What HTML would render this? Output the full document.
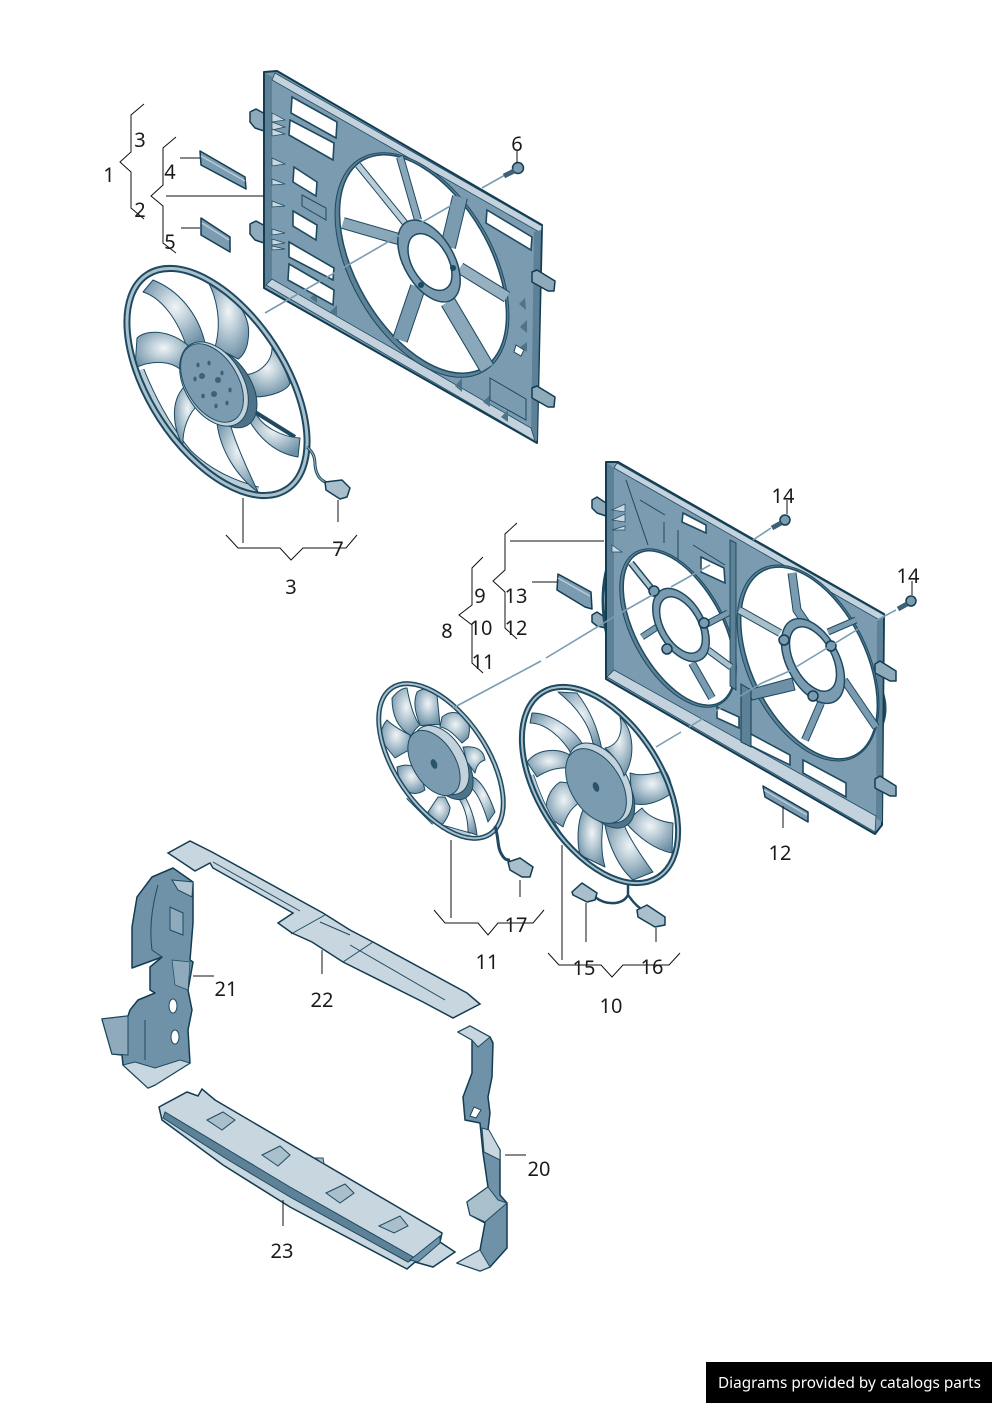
<!DOCTYPE html>
<html><head><meta charset="utf-8"><style>
html,body{margin:0;padding:0;background:#fff}
svg{display:block}
text{font-family:"Noto Sans","Open Sans","DejaVu Sans",sans-serif;font-size:20px;fill:#1a1a1a;text-anchor:middle}
.b{fill:url(#bl);stroke:#1d4a60;stroke-width:1;stroke-linejoin:round}
.f{fill:#7b9bb0;stroke:#123c52;stroke-width:2;stroke-linejoin:round}
.w{fill:#fff;stroke:#1d4a60;stroke-width:1.6}
.l{fill:#c8d6df;stroke:#1d4a60;stroke-width:1}
.t{fill:#8eaabb;stroke:#123c52;stroke-width:1.5;stroke-linejoin:round}
.c{fill:#a9bfcc;stroke:#123c52;stroke-width:1.5;stroke-linejoin:round}
.k{fill:none;stroke:#111;stroke-width:1}
.s{stroke-linecap:butt;fill:none}
.a{fill:none;stroke:#7a9db3;stroke-width:1.6}
</style></head><body>
<svg width="992" height="1403" viewBox="0 0 992 1403" xmlns="http://www.w3.org/2000/svg">
<defs>
<radialGradient id="bl" cx=".52" cy=".4" r=".62"><stop offset="0" stop-color="#f0f4f6"/><stop offset=".35" stop-color="#c3d3dc"/><stop offset="1" stop-color="#6d90a6"/></radialGradient>
</defs>
<rect width="992" height="1403" fill="#fff"/>

<!-- FRAME 1 -->
<polygon points="250,112 256,109 267,115 267,132 255,128 250,122" class="t"/>
<polygon points="250,224 256,221 267,227 267,244 255,240 250,234" class="t"/>
<path class="f" d="M264,72 L277,71 L542,225 L537,443 L264,288 Z"/>
<polygon points="265,73 272,77 272,282 265,287" fill="#5d8197"/>
<polygon points="275,73 542,226 541,233 272,80" fill="#c3d2dc" stroke="#1d4a60" stroke-width=".8"/>
<polygon points="534,232 541,230 537,441 531,437" fill="#5d8197"/>
<polygon points="266,285 272,279 531,428 535,441" fill="#c3d2dc" stroke="#1d4a60" stroke-width=".8"/>
<polygon points="532,272 537,270 555,281 554,291 548,291 532,282" class="t"/>
<polygon points="532,388 537,386 555,397 554,407 548,407 532,398" class="t"/>
<g fill="#c9d7e0" stroke="#1d4a60" stroke-width=".7">
<polygon points="272,113 285,120 272,122"/><polygon points="272,122 285,127 272,130"/><polygon points="272,129 285,134 272,136"/>
<polygon points="272,158 285,164 272,166"/><polygon points="272,179 285,184 272,185"/><polygon points="272,201 285,206 272,207"/>
<polygon points="272,229 285,233 272,235"/><polygon points="272,239 285,243 272,245"/><polygon points="272,246 285,249 272,250"/>
</g>
<g fill="#4f7489"><polygon points="317,292 317,303 310,298"/><polygon points="337,305 337,317 330,312"/><polygon points="462,378 462,392 455,386"/><polygon points="490,395 490,407 483,402"/><polygon points="508,410 508,422 501,417"/><polygon points="525,298 526,310 519,304"/><polygon points="527,320 527,333 520,327"/><polygon points="527,342 527,352 520,347"/></g>
<polygon class="w" points="292,97 337,122 336,138 291,113"/>
<polygon class="w" points="290,120 334,143 333,160 289,135"/>
<polygon class="w" points="294,167 317,182 316,196 293,182"/>
<polygon class="w" points="293,211 317,225 316,240 293,226"/>
<polygon class="w" points="289,242 334,268 333,280 289,257"/>
<polygon class="w" points="289,264 334,290 333,305 288,280"/>
<polygon class="w" points="487,210 532,237 531,250 486,223"/>
<path d="M302,195 L326,208 L326,220 L302,206 Z" fill="none" stroke="#1d4a60"/>
<ellipse cx="422" cy="265" rx="123" ry="71" transform="rotate(60 422 265)" fill="#5d8197" stroke="#1d4a60" stroke-width="1"/>
<ellipse cx="423" cy="264" rx="120" ry="67" transform="rotate(60 423 264)" fill="#fff" stroke="#1f4d64" stroke-width="1.5"/>
<g class="s">
<line x1="358" y1="165" x2="405" y2="223" stroke="#1d4a60" stroke-width="7"/><line x1="358" y1="165" x2="405" y2="223" stroke="#b9ccd7" stroke-width="5"/>
<line x1="400" y1="157" x2="418" y2="220" stroke="#1d4a60" stroke-width="8"/><line x1="400" y1="157" x2="418" y2="220" stroke="#8aa8ba" stroke-width="6"/>
<line x1="343" y1="223" x2="402" y2="240" stroke="#1d4a60" stroke-width="12"/><line x1="343" y1="223" x2="402" y2="240" stroke="#8aa8ba" stroke-width="10"/>
<line x1="460" y1="197" x2="448" y2="247" stroke="#1d4a60" stroke-width="16"/><line x1="460" y1="197" x2="448" y2="247" stroke="#7b9bb0" stroke-width="14"/>
<line x1="460" y1="268" x2="507" y2="297" stroke="#1d4a60" stroke-width="12"/><line x1="460" y1="268" x2="507" y2="297" stroke="#97b1c1" stroke-width="10"/>
<line x1="418" y1="287" x2="400" y2="340" stroke="#1d4a60" stroke-width="16"/><line x1="418" y1="287" x2="400" y2="340" stroke="#7b9bb0" stroke-width="14"/>
<line x1="448" y1="302" x2="487" y2="368" stroke="#1d4a60" stroke-width="16"/><line x1="448" y1="302" x2="487" y2="368" stroke="#8aa8ba" stroke-width="14"/>
</g>
<ellipse cx="429" cy="261" rx="45" ry="25" transform="rotate(60 429 261)" fill="#7b9bb0" stroke="#1d4a60" stroke-width="1.5"/>
<ellipse cx="430" cy="262" rx="31" ry="18" transform="rotate(60 430 262)" fill="#fff" stroke="#1d4a60" stroke-width="1.5"/>
<circle cx="453" cy="268" r="3" fill="#1d4a60"/><circle cx="421" cy="285" r="3" fill="#1d4a60"/>
<polygon points="490,378 526,399 526,420 490,400" fill="#7b9bb0" stroke="#1d4a60"/>
<polygon points="516,345 524,350 521,356 514,352" fill="#fff" stroke="#1d4a60"/>

<!-- clips -->
<polygon class="t" points="200,151 245,177 246,189 201,165" style="fill:#7b9bb0"/><line x1="201" y1="156" x2="245" y2="181" stroke="#b9ccd7" stroke-width="1.5"/>
<polygon class="t" points="201,218 230,237 230,252 201,235" style="fill:#7b9bb0"/><line x1="202" y1="223" x2="229" y2="240" stroke="#b9ccd7" stroke-width="1.5"/>

<!-- FAN 1 -->
<path class="s" d="M141,370 C155,405 170,430 188,452" stroke="#1d4a60" stroke-width="7"/><path class="s" d="M141,370 C155,405 170,430 188,452" stroke="#b9ccd7" stroke-width="5"/>
<path class="s" d="M188,452 C212,476 240,485 258,490" stroke="#1d4a60" stroke-width="7"/><path class="s" d="M188,452 C212,476 240,485 258,490" stroke="#b9ccd7" stroke-width="5"/>
<path class="s" d="M255,412 L295,437" stroke="#1d4a60" stroke-width="4"/>
<path class="b" d="M143,292 L153,280 C178,290 198,313 205,343 L187,348 C178,320 162,298 143,292Z"/>
<path class="b" d="M207,280 C238,297 252,317 248,340 C247,350 242,357 238,359 L215,347 C222,323 217,297 207,280Z"/>
<path class="b" d="M137,338 C145,330 168,328 190,347 L183,372 C172,360 152,360 135,368Z"/>
<path class="b" d="M272,348 C272,363 258,375 242,375 L253,397 C272,397 288,390 290,383 Q282,360 272,348Z"/>
<path class="b" d="M245,413 C255,433 272,453 298,457 L300,438 C282,437 262,427 255,412Z"/>
<path class="b" d="M217,423 C220,450 237,477 258,492 C248,470 235,443 230,423Z"/>
<path class="b" d="M187,384 C172,397 170,420 183,447 C182,430 188,413 200,403Z"/>
<ellipse cx="217" cy="382" rx="128" ry="68" transform="rotate(57 217 382)" fill="none" stroke="#1d4a60" stroke-width="7"/>
<ellipse cx="217" cy="382" rx="128" ry="68" transform="rotate(57 217 382)" fill="none" stroke="#a9bfcc" stroke-width="3"/>
<ellipse cx="224" cy="388" rx="44" ry="27" transform="rotate(57 224 388)" fill="#4f7489" stroke="#1d4a60"/>
<ellipse cx="214" cy="384" rx="46" ry="29" transform="rotate(59 214 384)" fill="#c3d2dc" stroke="#1d4a60"/>
<ellipse cx="212" cy="383" rx="43" ry="26" transform="rotate(59 212 383)" fill="#7b9bb0" stroke="#1d4a60"/>
<g fill="#3d6277"><ellipse cx="198" cy="365" rx="1.6" ry="2.4"/><ellipse cx="209" cy="363" rx="1.6" ry="2.4"/><ellipse cx="222" cy="373" rx="1.6" ry="2.4"/><ellipse cx="195" cy="379" rx="1.6" ry="2.4"/><circle cx="202" cy="376" r="3"/><circle cx="218" cy="380" r="3"/><ellipse cx="230" cy="390" rx="1.6" ry="2.4"/><ellipse cx="203" cy="396" rx="1.8" ry="2.4"/><circle cx="214" cy="394" r="3"/><ellipse cx="216" cy="406" rx="1.6" ry="2.4"/><ellipse cx="227" cy="403" rx="1.6" ry="2.4"/></g>
<path d="M307,447 C313,452 315,457 315,465 C316,475 320,480 327,483" fill="none" stroke="#1d4a60" stroke-width="3"/>
<path d="M307,447 C313,452 315,457 315,465 C316,475 320,480 327,483" fill="none" stroke="#9fb7c5" stroke-width="1"/>
<polygon class="c" points="325,482 342,480 350,488 347,497 340,499 326,490"/>

<!-- dashes 1 -->
<path class="a" d="M505,175 L482,188 M452,205 L265,313"/>
<circle cx="518" cy="168" r="5.5" fill="#7b9bb0" stroke="#123c52" stroke-width="1.5"/><line x1="514" y1="171" x2="504" y2="176" stroke="#3d6277" stroke-width="5"/>

<!-- FRAME 2 -->
<polygon points="592,500 597,497 606,503 606,516 597,513 592,508" class="t"/>
<polygon points="592,615 597,612 606,618 606,628 597,626 592,622" class="t"/>
<path d="M613,550 Q596,590 608,640" fill="none" stroke="#1d4a60" stroke-width="3"/>
<path d="M878,683 Q893,710 876,737" fill="none" stroke="#1d4a60" stroke-width="3"/>
<path class="f" d="M606,462 L618,462 L884,614 L882,825 L875,834 L606,679 Z"/>
<polygon points="607,463 614,468 614,672 607,677" fill="#5d8197"/>
<polygon points="617,463 884,615 883,622 614,468" fill="#c3d2dc" stroke="#1d4a60" stroke-width=".8"/>
<polygon points="877,620 883,618 882,822 876,818" fill="#5d8197"/>
<polygon points="607,677 614,670 876,816 875,832" fill="#c3d2dc" stroke="#1d4a60" stroke-width=".8"/>
<polygon points="875,664 880,661 896,671 896,681 890,681 875,673" class="t"/>
<polygon points="875,779 880,776 896,786 896,796 890,796 875,788" class="t"/>
<path d="M626,480 L648,545 M664,522 L664,543 M678,530 L678,560 M693,545 L725,565 M640,500 L665,515" fill="none" stroke="#1d4a60"/>
<g fill="#c9d7e0" stroke="#1d4a60" stroke-width=".7"><polygon points="612,510 625,504 625,512"/><polygon points="612,520 625,514 625,522"/><polygon points="612,530 625,526 625,530"/><polygon points="612,545 622,552 612,552"/></g>
<polygon class="w" points="683,513 706,525 706,533 682,522"/>
<polygon class="w" points="701,557 724,568 725,583 701,572"/>
<polygon class="w" points="717,707 739,717 739,728 717,718"/>
<polygon class="w" points="749,733 790,755 790,765 749,745"/>
<polygon class="w" points="803,760 846,783 846,797 803,773"/>
<ellipse cx="678" cy="628" rx="87" ry="46" transform="rotate(61 678 628)" fill="#5d8197" stroke="#1d4a60" stroke-width="1"/>
<ellipse cx="679" cy="628" rx="85" ry="43" transform="rotate(61 679 628)" fill="#fff" stroke="#1f4d64" stroke-width="1.5"/>
<ellipse cx="808" cy="663" rx="105" ry="60" transform="rotate(64 808 663)" fill="#5d8197" stroke="#1d4a60" stroke-width="1"/>
<ellipse cx="809" cy="663" rx="103" ry="57" transform="rotate(64 809 663)" fill="#fff" stroke="#1f4d64" stroke-width="1.5"/>
<polygon points="730,540 736,543 736,690 730,686" fill="#5d8197" stroke="#123c52" stroke-width=".8"/>
<g class="s">
<line x1="631" y1="563" x2="655" y2="593" stroke="#1d4a60" stroke-width="7"/><line x1="631" y1="563" x2="655" y2="593" stroke="#a9bfcc" stroke-width="4"/>
<line x1="728" y1="613" x2="705" y2="625" stroke="#1d4a60" stroke-width="7"/><line x1="728" y1="613" x2="705" y2="625" stroke="#7b9bb0" stroke-width="5"/>
<line x1="642" y1="637" x2="660" y2="625" stroke="#1d4a60" stroke-width="7"/><line x1="642" y1="637" x2="660" y2="625" stroke="#7b9bb0" stroke-width="5"/>
<line x1="708" y1="650" x2="731" y2="667" stroke="#1d4a60" stroke-width="7"/><line x1="708" y1="650" x2="731" y2="667" stroke="#a9bfcc" stroke-width="5"/>
<line x1="692" y1="663" x2="712" y2="698" stroke="#1d4a60" stroke-width="8"/><line x1="692" y1="663" x2="712" y2="698" stroke="#7b9bb0" stroke-width="6"/>
<line x1="739" y1="610" x2="780" y2="633" stroke="#1d4a60" stroke-width="8"/><line x1="739" y1="610" x2="780" y2="633" stroke="#a9bfcc" stroke-width="6"/>
<path d="M792,573 L797,610 L806,623" stroke="#1d4a60" stroke-width="9"/><path d="M792,573 L797,610 L806,623" stroke="#7b9bb0" stroke-width="7"/>
<line x1="856" y1="620" x2="828" y2="632" stroke="#1d4a60" stroke-width="7"/><line x1="856" y1="620" x2="828" y2="632" stroke="#7b9bb0" stroke-width="5"/>
<line x1="844" y1="680" x2="876" y2="727" stroke="#1d4a60" stroke-width="8"/><line x1="844" y1="680" x2="876" y2="727" stroke="#7b9bb0" stroke-width="6"/>
<line x1="821" y1="703" x2="805" y2="740" stroke="#1d4a60" stroke-width="8"/><line x1="821" y1="703" x2="805" y2="740" stroke="#7b9bb0" stroke-width="6"/>
</g>
<polygon points="748,690 792,678 795,690 752,700" fill="#6f91a7" stroke="#1d4a60"/>
<polygon points="741,684 751,690 751,747 741,742" fill="#5d8197" stroke="#123c52"/>
<ellipse cx="681" cy="625" rx="40" ry="23" transform="rotate(60 681 625)" fill="#7b9bb0" stroke="#1d4a60" stroke-width="1.5"/>
<ellipse cx="681" cy="625" rx="31" ry="17" transform="rotate(60 681 625)" fill="#fff" stroke="#1d4a60" stroke-width="1.5"/>
<ellipse cx="813" cy="661" rx="46" ry="26" transform="rotate(62 813 661)" fill="#7b9bb0" stroke="#1d4a60" stroke-width="1.5"/>
<ellipse cx="813" cy="659" rx="35" ry="19" transform="rotate(62 813 659)" fill="#fff" stroke="#1d4a60" stroke-width="1.5"/>
<g fill="#7b9bb0" stroke="#123c52" stroke-width="1.5"><circle cx="654" cy="591" r="5"/><circle cx="704" cy="623" r="5"/><circle cx="667" cy="649" r="5"/><circle cx="784" cy="640" r="5"/><circle cx="831" cy="646" r="5"/><circle cx="813" cy="696" r="5"/></g>
<polygon class="t" points="558,574 591,592 592,609 585,607 557,590" style="fill:#7b9bb0"/><line x1="558" y1="578" x2="590" y2="596" stroke="#b9ccd7" stroke-width="1.5"/>
<polygon class="t" points="763,786 808,812 808,822 765,797" style="fill:#7b9bb0"/><line x1="764" y1="790" x2="807" y2="815" stroke="#b9ccd7" stroke-width="1.5"/>

<!-- FAN 2 -->
<path class="s" d="M408,797 L434,823 M442,827 L470,835" stroke="#1d4a60" stroke-width="5"/><path class="s" d="M408,797 L434,823 M442,827 L470,835" stroke="#b9ccd7" stroke-width="3"/>
<path class="b" d="M392,698 Q400,688 407,688 C410,705 415,720 420,725 C413,730 412,737 410,735 C398,728 392,715 392,698Z"/>
<path class="b" d="M417,692 Q427,685 437,695 L440,725 C430,723 422,727 420,725 C415,712 413,702 417,692Z"/>
<path class="b" d="M442,717 Q453,708 465,717 Q472,725 468,738 L462,743 C453,733 447,728 440,727Z"/>
<path class="b" d="M387,720 C380,728 380,738 383,743 L395,758 C400,755 408,750 410,750 L410,735 C400,730 392,725 387,720Z"/>
<path class="b" d="M397,767 Q410,762 420,770 L425,790 Q413,798 403,788 Q398,778 397,767Z"/>
<path class="b" d="M438,797 L428,812 Q433,823 442,825 Q450,815 450,807 L445,797Z"/>
<path class="b" d="M463,793 C470,805 475,818 477,835 L468,832 C468,815 463,805 458,797Z"/>
<path class="b" d="M473,777 C483,782 490,798 495,812 L488,822 C483,805 477,792 470,787Z"/>
<ellipse cx="441" cy="761" rx="88" ry="46" transform="rotate(56 441 761)" fill="none" stroke="#1d4a60" stroke-width="5"/>
<ellipse cx="441" cy="761" rx="88" ry="46" transform="rotate(56 441 761)" fill="none" stroke="#a9bfcc" stroke-width="2"/>
<ellipse cx="447" cy="767" rx="36" ry="21" transform="rotate(58 447 767)" fill="#4f7489" stroke="#1d4a60"/>
<ellipse cx="441" cy="760" rx="38" ry="23" transform="rotate(58 441 760)" fill="#c3d2dc" stroke="#1d4a60"/>
<ellipse cx="434" cy="763" rx="36" ry="21" transform="rotate(58 434 763)" fill="#7b9bb0" stroke="#1d4a60"/>
<ellipse cx="434" cy="764" rx="3" ry="5" transform="rotate(-20 434 764)" fill="#2a5268"/>
<path class="b" d="M463,747 Q483,745 485,760 Q477,762 475,773 L467,762Z"/>
<path d="M495,826 C499,838 497,848 502,855 C505,860 507,860 510,860" fill="none" stroke="#1d4a60" stroke-width="3"/>
<polygon class="c" points="508,862 520,858 533,867 530,877 522,877 510,870"/>

<!-- FAN 3 -->
<path class="b" d="M558,692 L577,693 C590,710 598,728 602,750 L593,743 C588,720 572,703 558,692Z"/>
<path class="b" d="M532,713 C552,713 575,730 583,745 L572,755 C562,737 545,723 530,723Z"/>
<path class="b" d="M527,762 C538,748 558,748 570,755 L568,768 C552,767 540,775 537,777Z"/>
<path class="b" d="M560,782 C548,790 543,807 548,817 L563,827 C567,813 573,807 580,802 L570,783Z"/>
<path class="b" d="M583,810 C577,823 577,843 580,855 L605,867 C600,850 602,833 603,822Z"/>
<path class="b" d="M605,825 C608,843 618,867 633,880 L653,872 C642,857 628,837 623,822Z"/>
<path class="b" d="M642,808 C648,817 662,822 673,823 L672,853 C655,850 638,837 625,822Z"/>
<path class="b" d="M630,773 C642,777 658,773 665,770 C672,780 672,790 672,793 C658,803 643,807 632,803Z"/>
<path class="s" d="M532,775 C545,815 565,845 581,858" stroke="#1d4a60" stroke-width="4"/><path class="s" d="M532,775 C545,815 565,845 581,858" stroke="#b9ccd7" stroke-width="2.5"/>
<ellipse cx="600" cy="785" rx="109" ry="62" transform="rotate(58 600 785)" fill="none" stroke="#1d4a60" stroke-width="6"/>
<ellipse cx="600" cy="785" rx="109" ry="62" transform="rotate(58 600 785)" fill="none" stroke="#a9bfcc" stroke-width="2"/>
<ellipse cx="604" cy="790" rx="42" ry="25" transform="rotate(58 604 790)" fill="#4f7489" stroke="#1d4a60"/>
<ellipse cx="600" cy="783" rx="44" ry="27" transform="rotate(58 600 783)" fill="#c3d2dc" stroke="#1d4a60"/>
<ellipse cx="596" cy="786" rx="41" ry="25" transform="rotate(58 596 786)" fill="#7b9bb0" stroke="#1d4a60"/>
<ellipse cx="596" cy="787" rx="3" ry="5" transform="rotate(-20 596 787)" fill="#2a5268"/>
<path class="b" d="M620,717 C634,730 636,757 624,776 C622,767 615,757 605,748 C620,745 623,730 620,717Z"/>
<path d="M628,885 L628,895 C622,906 605,905 595,897 M628,895 C632,900 634,904 640,908" fill="none" stroke="#1d4a60" stroke-width="2.5"/>
<polygon class="c" points="572,892 582,883 597,893 595,900 587,902 573,895"/>
<polygon class="c" points="637,910 647,905 665,917 665,925 655,927 638,917"/>

<!-- dashes 2 -->
<path class="a" d="M771,528 L753,540 M710,565 L671,587 M656,593 L617,615 L546,658 M541,661 L453,708"/>
<path class="a" d="M896,610 L864,627 M860,628 L796,667 M792,670 L762,683 L689,727 M681,732 L656,747"/>
<circle cx="785" cy="520" r="5" fill="#7b9bb0" stroke="#123c52" stroke-width="1.5"/><line x1="781" y1="523" x2="772" y2="528" stroke="#3d6277" stroke-width="5"/>
<circle cx="911" cy="601" r="5" fill="#7b9bb0" stroke="#123c52" stroke-width="1.5"/><line x1="907" y1="604" x2="898" y2="609" stroke="#3d6277" stroke-width="5"/>

<!-- PART 22 -->
<polygon class="l" style="stroke:#123c52;stroke-width:1.5" points="168,853 190,841 212,852 323,913 350,930 373,942 467,993 480,1004 453,1018 423,1002 343,962 312,942 292,933 278,923 293,913 213,868 210,863 195,871"/>
<path d="M213,862 L300,911 M291,934 L325,915 M343,962 L373,942 M350,945 L445,1000 M320,922 L350,935" stroke="#1d4a60" fill="none"/>
<!-- PART 21 -->
<polygon points="152,877 173,868 193,882 193,923 190,960 193,962 188,990 192,1010 188,1030 190,1063 155,1085 148,1088 123,1065 122,1055 112,1054 102,1019 128,1016 130,1010 138,1000 155,993 150,990 150,967 162,957 132,968 132,927 137,897" fill="#6f92a8" stroke="#123c52" stroke-width="1.5" stroke-linejoin="round"/>
<polygon points="123,1065 135,1062 155,1068 180,1060 190,1063 155,1085 148,1088" fill="#c8d6df" stroke="#1d4a60"/>
<polygon points="102,1019 128,1016 128,1055 112,1054" fill="#8eaabb" stroke="#1d4a60"/>
<polygon points="172,880 193,882 192,897 178,890" fill="#b0c4d0" stroke="#1d4a60"/>
<polygon points="170,907 183,913 183,935 170,930" fill="#8eaabb" stroke="#1d4a60"/>
<polygon points="172,960 190,962 188,990 175,985" fill="#8eaabb" stroke="#1d4a60" stroke-width=".7"/>
<path d="M158,885 Q148,920 152,950 L162,957 M128,1016 L128,1055 M145,1020 L145,1060" fill="none" stroke="#1d4a60"/>
<ellipse cx="173" cy="1006" rx="4" ry="7" fill="#fff" stroke="#1d4a60"/><ellipse cx="175" cy="1037" rx="4" ry="7" fill="#fff" stroke="#1d4a60"/>
<!-- PART 23 -->
<polygon class="l" style="stroke:#123c52;stroke-width:1.5" points="159,1107 187,1092 198,1096 202,1089 215,1100 442,1233 440,1242 455,1252 433,1267 415,1262 407,1269 290,1207 223,1165 162,1120"/>
<path d="M163,1118 L225,1158 L290,1197 L408,1262 L415,1258 L290,1187 L225,1148 L165,1112 Z" fill="#5d8197" stroke="#1d4a60"/>
<polygon points="440,1236 410,1260 418,1262 440,1243" fill="#6f92a8" stroke="#1d4a60"/>
<g class="l" style="fill:#a9bfcc"><polygon points="207,1120 223,1112 235,1120 222,1130"/><polygon points="262,1155 280,1146 290,1155 278,1166"/><polygon points="326,1193 345,1184 354,1193 340,1203"/><polygon points="379,1226 400,1216 408,1226 394,1233"/></g>
<polygon points="315,1158 323,1158 324,1164" fill="#a9bfcc" stroke="#1d4a60"/>
<!-- PART 20 -->
<polygon points="458,1032 470,1026 490,1037 493,1043 492,1077 488,1097 490,1113 488,1130 500,1150 500,1195 507,1203 507,1248 490,1267 480,1271 457,1263 480,1250 485,1223 470,1215 467,1202 488,1187 483,1153 480,1123 465,1120 463,1097 472,1073 472,1040" fill="#6f92a8" stroke="#123c52" stroke-width="1.5" stroke-linejoin="round"/>
<polygon points="458,1032 470,1026 490,1037 478,1047 472,1040" fill="#c8d6df" stroke="#1d4a60"/>
<polygon points="482,1128 489,1130 500,1150 500,1160 484,1152" fill="#c8d6df" stroke="#1d4a60"/>
<polygon points="467,1202 488,1187 498,1200 507,1203 485,1222 470,1215" fill="#a9bfcc" stroke="#1d4a60"/>
<polygon points="457,1263 480,1250 490,1267 480,1271" fill="#c8d6df" stroke="#1d4a60"/>
<polygon points="470,1116 474,1107 481,1110 476,1118" fill="#fff" stroke="#1d4a60"/>

<!-- leaders & braces -->
<g class="k">
<polyline points="144,104 131,115 131,152 120,162 131,172 131,208 144,219"/>
<polyline points="176,137 163,148 163,185 151,196 163,206 163,243 176,253"/>
<line x1="166" y1="196" x2="264" y2="196"/><line x1="180" y1="158" x2="200" y2="158"/><line x1="181" y1="228" x2="200" y2="228"/><line x1="517" y1="150" x2="517" y2="163"/>
<polyline points="226,535 238,548 280,548 291,560 303,548 346,548 357,535"/>
<line x1="243" y1="498" x2="243" y2="543"/><line x1="338" y1="500" x2="338" y2="522"/>
<polyline points="483,557 472,568 472,605 459,615 472,625 472,663 483,673"/>
<polyline points="517,523 505,534 505,570 493,581 505,592 505,628 517,639"/>
<line x1="510" y1="541" x2="604" y2="541"/><line x1="532" y1="582" x2="557" y2="582"/><line x1="783" y1="806" x2="783" y2="828"/>
<line x1="787" y1="500" x2="787" y2="514"/><line x1="912" y1="581" x2="912" y2="595"/>
<polyline points="434,910 445,923 478,923 488,935 498,923 533,923 544,910"/>
<line x1="451" y1="840" x2="451" y2="918"/><line x1="520" y1="880" x2="520" y2="897"/>
<polyline points="548,953 559,965 601,965 612,977 623,965 669,965 680,953"/>
<line x1="562" y1="845" x2="562" y2="960"/><line x1="586" y1="903" x2="586" y2="942"/><line x1="656" y1="928" x2="656" y2="942"/>
<line x1="193" y1="976" x2="214" y2="976"/><line x1="322" y1="950" x2="322" y2="974"/><line x1="283" y1="1200" x2="283" y2="1226"/><line x1="505" y1="1155" x2="526" y2="1155"/>
</g>

<!-- labels -->
<text x="140" y="147">3</text><text x="109" y="182">1</text><text x="140" y="217">2</text><text x="170" y="179">4</text><text x="170" y="249">5</text><text x="517" y="151">6</text><text x="338" y="556">7</text><text x="291" y="594">3</text>
<text x="783" y="503">14</text><text x="908" y="583">14</text><text x="480" y="603">9</text><text x="481" y="635">10</text><text x="483" y="669">11</text><text x="447" y="638">8</text><text x="516" y="603">13</text><text x="516" y="635">12</text><text x="780" y="860">12</text>
<text x="516" y="932">17</text><text x="487" y="969">11</text><text x="584" y="975">15</text><text x="652" y="974">16</text><text x="611" y="1013">10</text>
<text x="226" y="996">21</text><text x="322" y="1007">22</text><text x="282" y="1258">23</text><text x="539" y="1176">20</text>

<rect x="706" y="1362" width="286" height="41" fill="#000"/>
<text x="718" y="1388" textLength="263" lengthAdjust="spacingAndGlyphs" style="font-size:15px;fill:#fff;text-anchor:start">Diagrams provided by catalogs parts</text>
</svg>
</body></html>
